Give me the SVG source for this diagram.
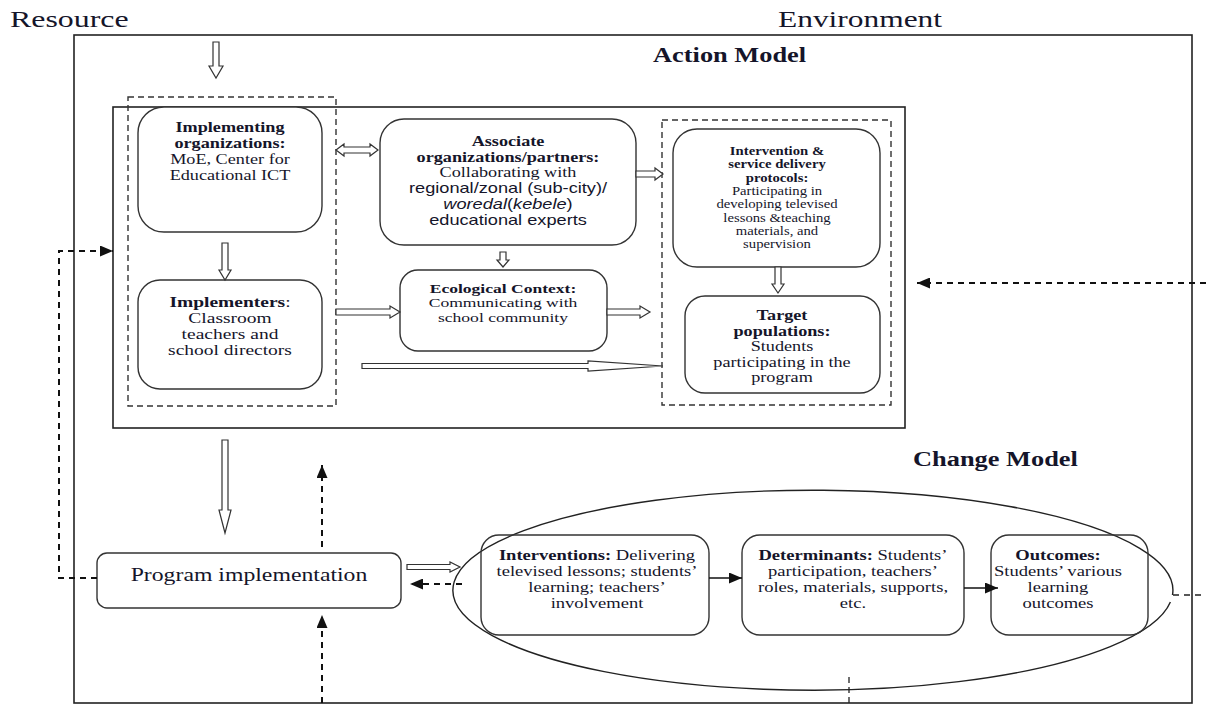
<svg xmlns="http://www.w3.org/2000/svg" width="1206" height="704" viewBox="0 0 1206 704">
<style>
text{font-family:"Liberation Serif","Times New Roman",serif;fill:#15152a}
.sans{font-family:"Liberation Sans",Arial,sans-serif}
.b{font-weight:bold}
.i{font-style:italic}
.box{fill:#fff;stroke:#333;stroke-width:1.4}
.frame{fill:none;stroke:#222;stroke-width:1.6}
.dbox{fill:none;stroke:#333;stroke-width:1.4;stroke-dasharray:6 4}
.hollow{fill:#fff;stroke:#333;stroke-width:1.2;stroke-linejoin:miter}
.dash{fill:none;stroke:#111;stroke-width:2;stroke-dasharray:6 5}
.solid{fill:none;stroke:#111;stroke-width:1.6}
.m{text-anchor:middle}
</style>
<defs>
<marker id="ah" markerUnits="userSpaceOnUse" markerWidth="13" markerHeight="11" refX="13" refY="5.5" orient="auto">
<path d="M0,0 L13,5.5 L0,11 z" fill="#111"/>
</marker>
</defs>
<rect width="1206" height="704" fill="#fff"/>

<g id="titles">
<text transform="translate(10,0) scale(1.33,1)" x="0" y="27" font-size="24">Resource</text>
<text transform="translate(778,0) scale(1.31,1)" x="0" y="27" font-size="24">Environment</text>
<text class="b" transform="translate(653,0) scale(1.32,1)" x="0" y="62" font-size="20">Action Model</text>
<text class="b" transform="translate(913,0) scale(1.32,1)" x="0" y="466" font-size="20">Change Model</text>
</g>

<g id="frames">
<rect class="frame" x="74" y="35" width="1118" height="668"/>
<rect class="frame" x="113" y="107" width="792" height="321"/>
<rect class="dbox" x="128" y="97" width="208" height="309"/>
<rect class="dbox" x="662" y="120" width="229" height="285"/>
<path d="M1172.5,595 A360,100 0 1 0 1170.4,602" fill="none" stroke="#222" stroke-width="1.4"/>
</g>

<g id="implementing-organizations">
<rect class="box" x="138" y="107" width="184" height="125" rx="26"/>
<g transform="translate(230,0) scale(1.3,1)" font-size="14">
<text class="m b" x="0" y="132">Implementing</text>
<text class="m b" x="0" y="148">organizations:</text>
<text class="m" x="0" y="164">MoE, Center for</text>
<text class="m" x="0" y="180">Educational ICT</text>
</g>
</g>

<g id="implementers">
<rect class="box" x="138" y="280" width="184" height="109" rx="22"/>
<g transform="translate(230,0) scale(1.3,1)" font-size="15">
<text class="m" x="0" y="307"><tspan class="b">Implementers</tspan>:</text>
<text class="m" x="0" y="323">Classroom</text>
<text class="m" x="0" y="339">teachers and</text>
<text class="m" x="0" y="355">school directors</text>
</g>
</g>

<g id="associate-organizations">
<rect class="box" x="380" y="119" width="256" height="126" rx="24"/>
<g transform="translate(508,0) scale(1.3,1)" font-size="14">
<text class="m b" x="0" y="146">Associate</text>
<text class="m b" x="0" y="162">organizations/partners:</text>
<text class="m" x="0" y="177">Collaborating with</text>
<text class="m sans" x="0" y="193">regional/zonal (sub-city)/</text>
<text class="m sans" x="0" y="209"><tspan class="i">woredal</tspan>(<tspan class="i">kebele</tspan>)</text>
<text class="m sans" x="0" y="225">educational experts</text>
</g>
</g>

<g id="ecological-context">
<rect class="box" x="400" y="270" width="207" height="81" rx="18"/>
<g transform="translate(503,0) scale(1.3,1)" font-size="13.5">
<text class="m b" x="0" y="293">Ecological Context:</text>
<text class="m" x="0" y="307">Communicating with</text>
<text class="m" x="0" y="322">school community</text>
</g>
</g>

<g id="intervention-protocols">
<rect class="box" x="673" y="129" width="207" height="138" rx="24"/>
<g transform="translate(777,0) scale(1.28,1)" font-size="11.5">
<text class="m b" x="0" y="155">Intervention &amp;</text>
<text class="m b" x="0" y="168">service delivery</text>
<text class="m b" x="0" y="182">protocols:</text>
<text class="m" x="0" y="195">Participating in</text>
<text class="m" x="0" y="208">developing televised</text>
<text class="m" x="0" y="222">lessons &amp;teaching</text>
<text class="m" x="0" y="235">materials, and</text>
<text class="m" x="0" y="248">supervision</text>
</g>
</g>

<g id="target-populations">
<rect class="box" x="685" y="296" width="195" height="97" rx="20"/>
<g transform="translate(782,0) scale(1.3,1)" font-size="14">
<text class="m b" x="0" y="320">Target</text>
<text class="m b" x="0" y="336">populations:</text>
<text class="m" x="0" y="351">Students</text>
<text class="m" x="0" y="367">participating in the</text>
<text class="m" x="0" y="382">program</text>
</g>
</g>

<g id="program-implementation">
<rect class="box" x="97" y="553" width="304" height="55" rx="10"/>
<text transform="translate(249,0) scale(1.32,1)" class="m" x="0" y="581" font-size="18">Program implementation</text>
</g>

<g id="interventions">
<rect class="box" x="481" y="535" width="228" height="100" rx="18" fill-opacity="0"/>
<g transform="translate(597,0) scale(1.28,1)" font-size="14.5">
<text class="m" x="0" y="560"><tspan class="b">Interventions:</tspan> Delivering</text>
<text class="m" x="0" y="576">televised lessons; students’</text>
<text class="m" x="0" y="592">learning; teachers’</text>
<text class="m" x="0" y="608">involvement</text>
</g>
</g>

<g id="determinants">
<rect class="box" x="742" y="535" width="222" height="100" rx="18"/>
<g transform="translate(853,0) scale(1.28,1)" font-size="14.5">
<text class="m" x="0" y="560"><tspan class="b">Determinants:</tspan> Students’</text>
<text class="m" x="0" y="576">participation, teachers’</text>
<text class="m" x="0" y="592">roles, materials, supports,</text>
<text class="m" x="0" y="608">etc.</text>
</g>
</g>

<g id="outcomes">
<rect class="box" x="991" y="535" width="157" height="100" rx="18" fill-opacity="0"/>
<g transform="translate(1058,0) scale(1.28,1)" font-size="14.5">
<text class="m b" x="0" y="560">Outcomes:</text>
<text class="m" x="0" y="576">Students’ various</text>
<text class="m" x="0" y="592">learning</text>
<text class="m" x="0" y="608">outcomes</text>
</g>
</g>

<g id="connectors">
<polygon class="hollow" points="213,42 219,42 219,66 223,66 216,78 209,66 213,66"/>
<polygon class="hollow" points="222,243 228,243 228,270 231,270 225,280 219,270 222,270"/>
<polygon class="hollow" points="336,150 344,144 344,147 370,147 370,144 378,150 370,156 370,153 344,153 344,156"/>
<polygon class="hollow" points="636,171 655,171 655,168 663,174 655,180 655,177 636,177"/>
<polygon class="hollow" points="500,252 506,252 506,260 509,260 503,267 497,260 500,260"/>
<polygon class="hollow" points="336,309 390,309 390,306 400,312 390,318 390,315 336,315"/>
<polygon class="hollow" points="607,309 640,309 640,306 650,312 640,318 640,315 607,315"/>
<polygon class="hollow" points="362,363.5 588,363.5 588,361 663,366 588,371 588,368.5 362,368.5"/>
<polygon class="hollow" points="775,267 781,267 781,284 784,284 778,293 772,284 775,284"/>
<polygon class="hollow" points="222,440 228,440 228,510 231,510 225,533 219,510 222,510"/>
<polygon class="hollow" points="407,564.5 450,564.5 450,562 460,567 450,572 450,569.5 407,569.5"/>
<path class="dash" d="M97,578 H59 V251 H113" marker-end="url(#ah)"/>
<path class="dash" d="M1206,283 H917" marker-end="url(#ah)"/>
<path class="dash" stroke-width="2.6" d="M322,547 V465" marker-end="url(#ah)"/>
<path class="dash" stroke-width="2.6" d="M322,703 V615" marker-end="url(#ah)"/>
<path class="dash" d="M462,584 H410" marker-end="url(#ah)"/>
<path class="solid" d="M709,578 H742" marker-end="url(#ah)"/>
<path class="solid" d="M964,588 H998" marker-end="url(#ah)"/>
<path fill="none" stroke="#222" stroke-width="1.3" stroke-dasharray="6 5" d="M1173,595 H1206"/>
<path fill="none" stroke="#222" stroke-width="1.3" stroke-dasharray="6 4" d="M849,677 V704"/>
</g>
</svg>
